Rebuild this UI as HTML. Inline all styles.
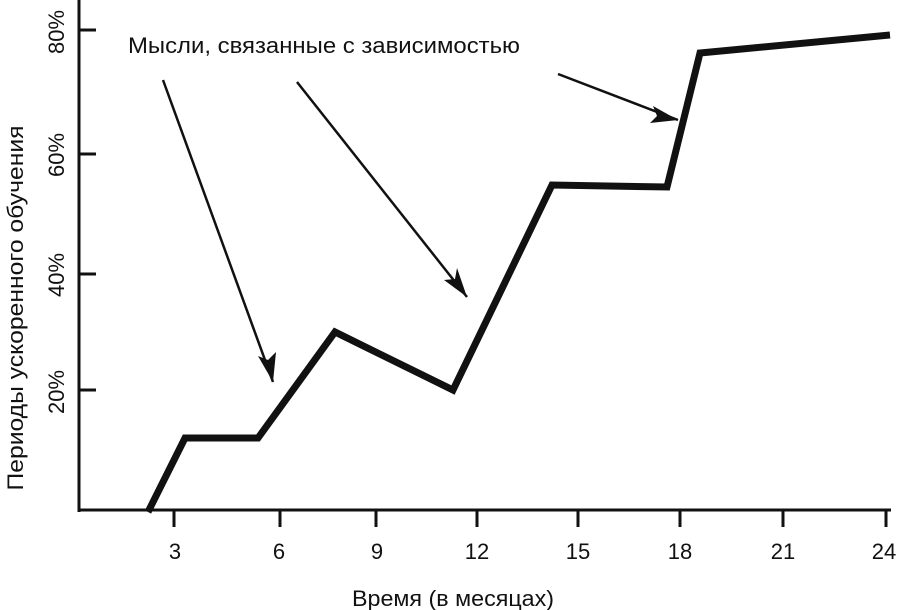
<!DOCTYPE html>
<html><head><meta charset="utf-8"><style>
html,body{margin:0;padding:0;background:#fff;}
svg{display:block;}
text{font-family:"Liberation Sans","DejaVu Sans",sans-serif;fill:#111;}
</style></head><body>
<svg width="900" height="610" viewBox="0 0 900 610" xmlns="http://www.w3.org/2000/svg">
<g stroke="#111" fill="none">
<line x1="79" y1="0" x2="79" y2="512" stroke-width="3"/>
<line x1="78" y1="510" x2="891" y2="510" stroke-width="3"/>
<g stroke-width="3">
<line x1="79" y1="30" x2="96" y2="30"/>
<line x1="79" y1="154" x2="96" y2="154"/>
<line x1="79" y1="274" x2="96" y2="274"/>
<line x1="79" y1="390" x2="96" y2="390"/>
<line x1="174" y1="510" x2="174" y2="527"/>
<line x1="280" y1="510" x2="280" y2="527"/>
<line x1="376" y1="510" x2="376" y2="527"/>
<line x1="477" y1="510" x2="477" y2="527"/>
<line x1="578" y1="510" x2="578" y2="527"/>
<line x1="680" y1="510" x2="680" y2="527"/>
<line x1="783" y1="510" x2="783" y2="527"/>
<line x1="886" y1="510" x2="886" y2="527"/>
</g>
<polyline points="148,512 185,438 258,438 335,332 453,390 552,185 667,187 700,53 890,35" stroke-width="7" stroke-linejoin="miter"/>
<g stroke-width="2.5">
<line x1="163" y1="80" x2="273" y2="382"/>
<line x1="297" y1="82" x2="467" y2="297"/>
<line x1="558" y1="74" x2="678" y2="120"/>
</g>
</g>
<g fill="#111">
<path d="M273,382 L258,356 L268,360 L276,352 Z"/>
<path d="M467,297 L444,280 L455,279 L457,268 Z"/>
<path d="M678,120 L650,123 L657,116 L653,106 Z"/>
</g>
<text x="128" y="53" font-size="22" textLength="392" lengthAdjust="spacingAndGlyphs">Мысли, связанные с зависимостью</text>
<g font-size="22" text-anchor="middle">
<text x="175" y="559">3</text>
<text x="279" y="559">6</text>
<text x="377" y="559">9</text>
<text x="477" y="559">12</text>
<text x="578" y="559">15</text>
<text x="680" y="559">18</text>
<text x="783" y="559">21</text>
<text x="884" y="559">24</text>
<text x="453" y="606" textLength="202" lengthAdjust="spacingAndGlyphs">Время (в месяцах)</text>
</g>
<g font-size="22" text-anchor="middle">
<text transform="translate(64,32) rotate(-90)">80%</text>
<text transform="translate(64,155) rotate(-90)">60%</text>
<text transform="translate(64,275) rotate(-90)">40%</text>
<text transform="translate(64,392) rotate(-90)">20%</text>
<text transform="translate(23,308) rotate(-90)" textLength="365" lengthAdjust="spacingAndGlyphs">Периоды ускоренного обучения</text>
</g>
</svg>
</body></html>
